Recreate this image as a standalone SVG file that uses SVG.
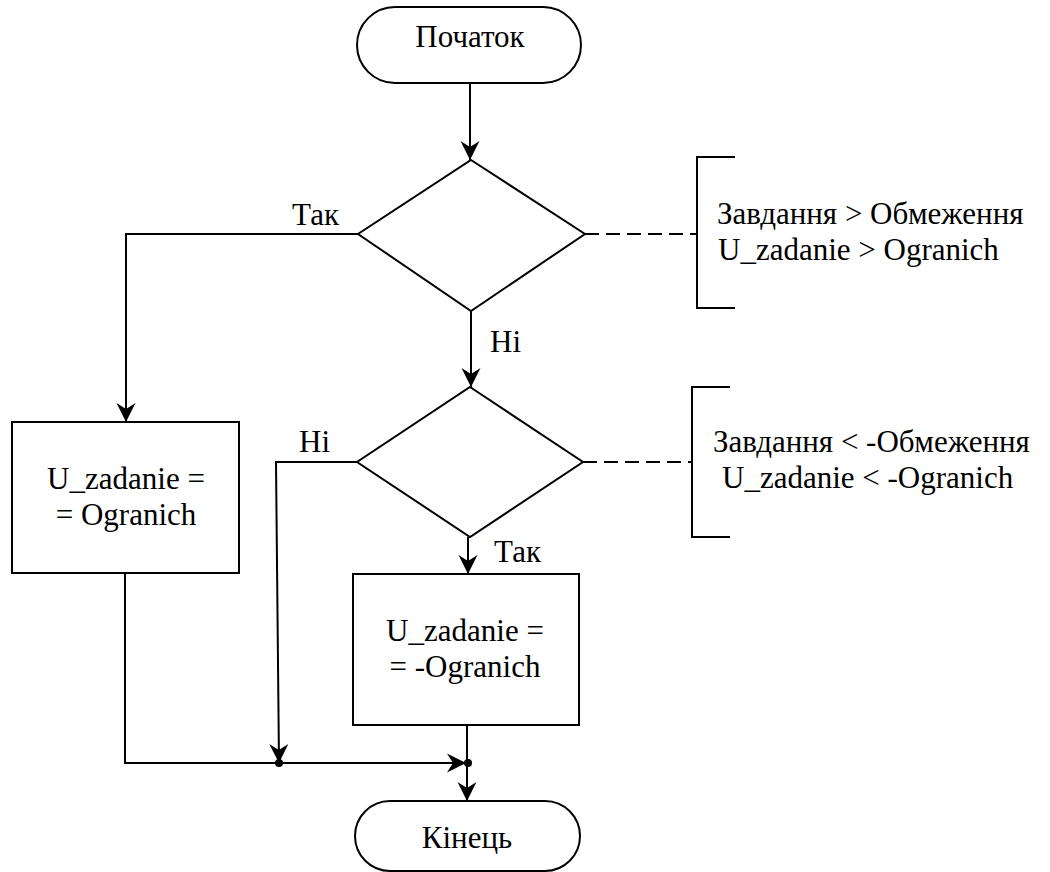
<svg xmlns="http://www.w3.org/2000/svg" width="1050" height="872" viewBox="0 0 1050 872">
<style>
.s{fill:#fff;stroke:#000;stroke-width:2}
.c{fill:none;stroke:#000;stroke-width:2}
.d{fill:none;stroke:#000;stroke-width:2;stroke-dasharray:14 7}
.t{font-family:"Liberation Serif","Times New Roman",serif;font-size:31px;fill:#000}
.m{text-anchor:middle}
</style>
<defs>
<marker id="ah" markerUnits="userSpaceOnUse" markerWidth="22" markerHeight="20" viewBox="-22 -10 22 20" refX="0" refY="0" orient="auto">
<path d="M0,0 L-19,-9.5 L-13,0 L-19,9.5 Z" fill="#000"/>
</marker>
</defs>
<rect width="1050" height="872" fill="#fff"/>
<g id="connectors">
<path class="c" d="M470,83 V160" marker-end="url(#ah)"/>
<path class="c" d="M358,234 H126 V422" marker-end="url(#ah)"/>
<path class="c" d="M471,311 V387" marker-end="url(#ah)"/>
<path class="c" d="M357,462 H276 L279,763" marker-end="url(#ah)"/>
<path class="c" d="M468,537 V574" marker-end="url(#ah)"/>
<path class="c" d="M125,573 V763 H466" marker-end="url(#ah)"/>
<path class="c" d="M467,725 V801" marker-end="url(#ah)"/>
<path class="d" d="M585,234 H697"/>
<path class="d" d="M583,462 H692"/>
<circle cx="279" cy="763" r="4" fill="#000"/>
<circle cx="468" cy="763" r="4" fill="#000"/>
<text class="t" x="292" y="225">Так</text>
<text class="t" x="490" y="352">Ні</text>
<text class="t" x="299" y="452">Ні</text>
<text class="t" x="494" y="562">Так</text>
</g>
<g id="start">
<rect class="s" x="357" y="7" width="224" height="76" rx="38"/>
<text class="t m" x="470" y="47">Початок</text>
</g>
<g id="cond1">
<polygon class="s" points="471,160 585,234 471,311 358,234"/>
</g>
<g id="note1">
<path class="c" d="M735,157 H697 V308 H735"/>
<text class="t" x="717" y="224">Завдання &gt; Обмеження</text>
<text class="t" x="718" y="260">U_zadanie &gt; Ogranich</text>
</g>
<g id="box1">
<rect class="s" x="12" y="422" width="227" height="151"/>
<text class="t m" x="126" y="489">U_zadanie =</text>
<text class="t m" x="126" y="525">= Ogranich</text>
</g>
<g id="cond2">
<polygon class="s" points="470,387 583,462 470,537 357,462"/>
</g>
<g id="note2">
<path class="c" d="M730,387 H692 V537 H730"/>
<text class="t" x="713" y="452">Завдання &lt; -Обмеження</text>
<text class="t" x="722" y="488">U_zadanie &lt; -Ogranich</text>
</g>
<g id="box2">
<rect class="s" x="353" y="574" width="226" height="151"/>
<text class="t m" x="465" y="641">U_zadanie =</text>
<text class="t m" x="465" y="677">= -Ogranich</text>
</g>
<g id="end">
<rect class="s" x="355" y="801" width="225" height="70" rx="35"/>
<text class="t m" x="467" y="848">Кінець</text>
</g>
</svg>
